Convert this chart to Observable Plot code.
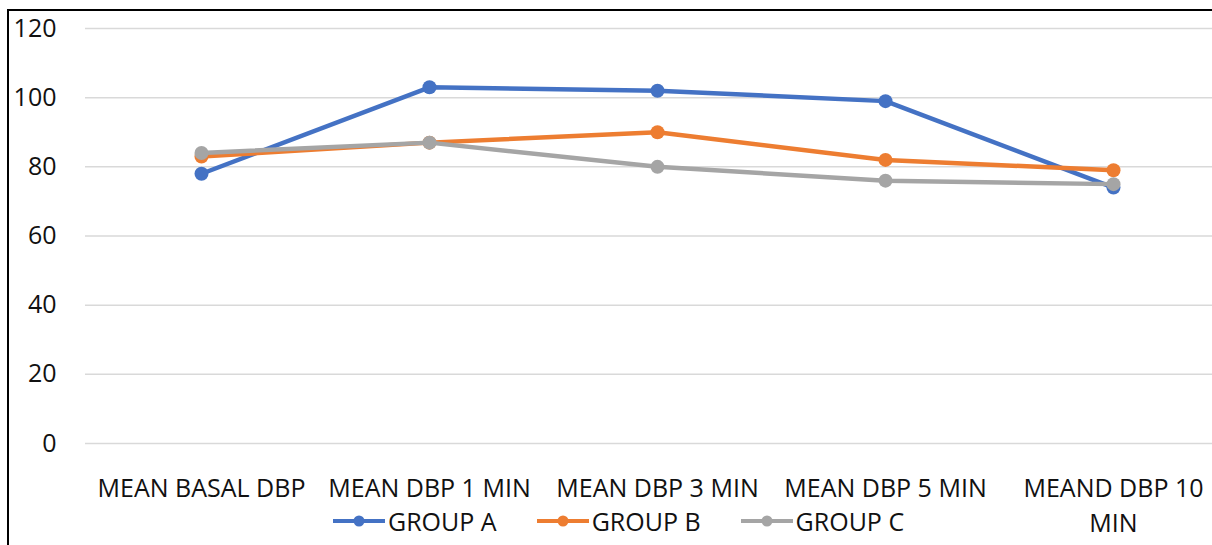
<!DOCTYPE html>
<html>
<head>
<meta charset="utf-8">
<script src="https://cdn.jsdelivr.net/npm/d3@7"></script>
<script src="https://cdn.jsdelivr.net/npm/@observablehq/plot@0.6"></script>
<style>
  html, body { margin: 0; padding: 0; background: #fff; }
  #wrap { position: relative; width: 1212px; height: 545px; overflow: hidden; font-family: "Open Sans", sans-serif; }
  #frame { position: absolute; left: 7px; top: 9px; right: -10px; bottom: -10px; border-top: 2px solid #000; border-left: 2px solid #000; }
  #chart { position: absolute; left: 0; top: 0; }
  #legend { position: absolute; left: 333px; top: 505px; display: flex; gap: 40px; font-size: 25px; color: #111; line-height: 32px; }
  #legend .item { display: flex; align-items: center; gap: 3px; }
</style>
</head>
<body>
<div id="wrap">
  <div id="frame"></div>
  <div id="chart"></div>
  <div id="legend"></div>
</div>
<script>
// Time points of the diastolic blood pressure readings
const categories = ["MEAN BASAL DBP", "MEAN DBP 1 MIN", "MEAN DBP 3 MIN", "MEAN DBP 5 MIN", "MEAND DBP 10 MIN"];
const tickLabels = ["MEAN BASAL DBP", "MEAN DBP 1 MIN", "MEAN DBP 3 MIN", "MEAN DBP 5 MIN", "MEAND DBP 10\nMIN"];

// Mean DBP per group
const groupA = [78, 103, 102, 99, 74];
const groupB = [83, 87, 90, 82, 79];
const groupC = [84, 87, 80, 76, 75];

const groups = ["GROUP A", "GROUP B", "GROUP C"];
const colors = ["#4472C4", "#ED7D31", "#A5A5A5"];
const yTicks = [0, 20, 40, 60, 80, 100, 120];

const series = [groupA, groupB, groupC];
const rows = series.flatMap((vals, g) =>
  vals.map((v, i) => ({group: groups[g], cat: categories[i], value: v}))
);

const lineMarks = groups.flatMap((g) => [
  Plot.line(rows.filter((d) => d.group === g), {x: "cat", y: "value", stroke: "group", strokeWidth: 4.5, strokeLinejoin: "round"}),
  Plot.dot(rows.filter((d) => d.group === g), {x: "cat", y: "value", fill: "group", r: 7})
]);

const chart = Plot.plot({
  width: 1212,
  height: 545,
  marginLeft: 85,
  marginRight: 0,
  marginTop: 28,
  marginBottom: 102,
  style: {fontFamily: "'Open Sans', sans-serif", background: "transparent", overflow: "visible"},
  x: {type: "point", domain: categories, range: [200, 1114], padding: 0},
  y: {domain: [0, 120]},
  color: {domain: groups, range: colors},
  marks: [
    Plot.gridY(yTicks, {stroke: "#d9d9d9", strokeOpacity: 1, strokeWidth: 1.5}),
    Plot.axisY(yTicks, {tickSize: 0, tickPadding: 29, fontSize: 25, fill: "#111", label: null}),
    Plot.axisX({
      tickSize: 0,
      tickPadding: 29,
      fontSize: 25,
      lineHeight: 1.4,
      fill: "#111",
      label: null,
      tickFormat: (d) => tickLabels[categories.indexOf(d)]
    }),
    ...lineMarks
  ]
});
document.getElementById("chart").appendChild(chart);

// Legend: line-and-marker swatch followed by the group name
const legend = document.getElementById("legend");
groups.forEach((g, i) => {
  const item = document.createElement("div");
  item.className = "item";
  item.innerHTML =
    `<svg width="52" height="14"><line x1="0" y1="7" x2="52" y2="7" stroke="${colors[i]}" stroke-width="4"/>` +
    `<circle cx="26" cy="7" r="5.5" fill="${colors[i]}"/></svg><span>${g}</span>`;
  legend.appendChild(item);
});
</script>
</body>
</html>
